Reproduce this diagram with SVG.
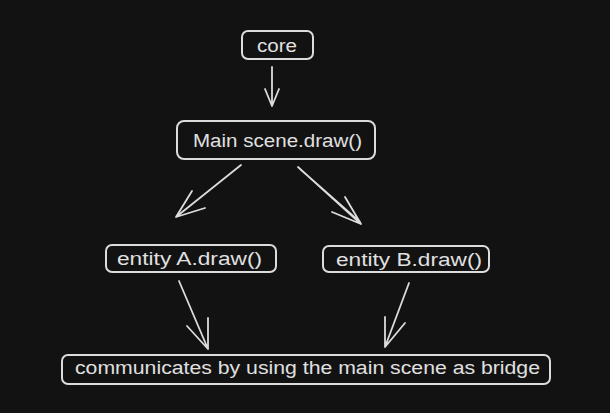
<svg xmlns="http://www.w3.org/2000/svg" width="610" height="413" viewBox="0 0 610 413">
<style>
.box{fill:none;stroke:#dcdcdc;stroke-width:2;stroke-linecap:round;stroke-linejoin:round}
.ln{fill:none;stroke:#dcdcdc;stroke-width:1.8;stroke-linecap:round;stroke-linejoin:round}
.t{font-family:"Liberation Sans","DejaVu Sans",sans-serif;font-size:18px;fill:#e0e0e0}
</style>
<rect x="0" y="0" width="610" height="413" fill="#121212"/>
<g id="core">
<rect class="box" x="242" y="31" width="71" height="28" rx="6"/>
<text class="t" x="257" y="52" textLength="40" lengthAdjust="spacingAndGlyphs">core</text>
</g>
<g id="main">
<rect class="box" x="177" y="121" width="198" height="38" rx="7"/>
<text class="t" x="193" y="147" textLength="169" lengthAdjust="spacingAndGlyphs">Main scene.draw()</text>
</g>
<g id="entityA">
<rect class="box" x="106" y="245" width="170" height="27" rx="6"/>
<text class="t" x="117" y="265" textLength="145" lengthAdjust="spacingAndGlyphs">entity A.draw()</text>
</g>
<g id="entityB">
<rect class="box" x="323" y="246" width="166" height="26" rx="6"/>
<text class="t" x="336" y="266" textLength="146" lengthAdjust="spacingAndGlyphs">entity B.draw()</text>
</g>
<g id="bridge">
<rect class="box" x="62" y="355" width="488" height="29" rx="6"/>
<text class="t" x="75" y="374" textLength="465" lengthAdjust="spacingAndGlyphs">communicates by using the main scene as bridge</text>
</g>
<g id="connectors">
<path class="ln" d="M272 67 L272 106 M265 89 L272 106 L279 89"/>
<path class="ln" d="M241 165 L176 217 M192 191 L176 217 L205 208"/>
<path class="ln" d="M298 167 L361 224 M345 197 L361 224 L332 212 M300 169 L360 222"/>
<path class="ln" d="M179 281 L208 349 M187 326 L208 349 L208 318"/>
<path class="ln" d="M409 283 L385 347 M405 323 L385 347 L385 317"/>
</g>
</svg>
